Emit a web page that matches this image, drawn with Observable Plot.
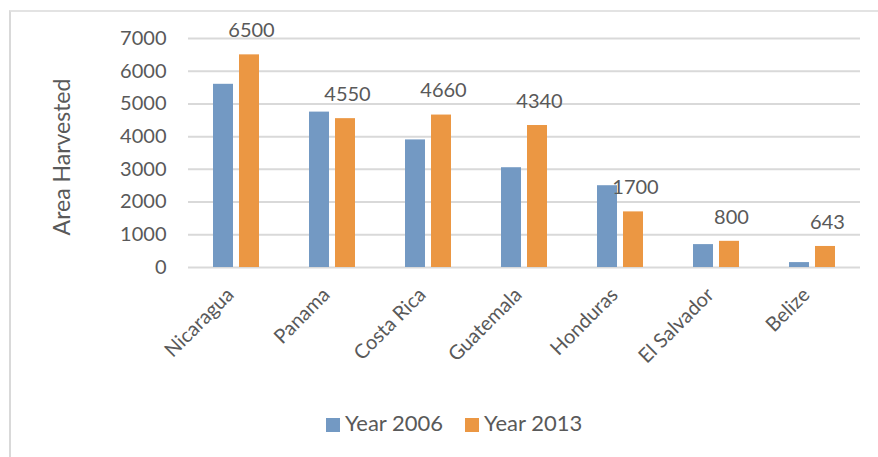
<!DOCTYPE html>
<html><head><meta charset="utf-8">
<script src="https://cdn.jsdelivr.net/npm/d3@7"></script>
<script src="https://cdn.jsdelivr.net/npm/@observablehq/plot@0.6"></script>
<style>
body{margin:0;background:#fff;font-family:Lato,"Open Sans",sans-serif;overflow:hidden;}
#wrap{position:relative;width:878px;height:457px;overflow:hidden;}
#frame{position:absolute;left:9px;top:10px;width:900px;height:480px;border-left:2px solid #d9d9d9;border-top:2px solid #e3e3e3;box-sizing:border-box;}
#chart{position:absolute;left:0;top:0;}
#ylabel{position:absolute;left:61px;top:157px;transform:translate(-50%,-50%) rotate(-90deg);white-space:nowrap;font-size:23px;color:#595959;}
#legend{position:absolute;left:326px;top:409px;line-height:28px;white-space:nowrap;font-size:22px;color:#595959;}
#legend span.sw{display:inline-block;width:14px;height:14px;margin-right:5px;vertical-align:-1px;}
#legend span.it{margin-right:22px;}
</style></head>
<body><div id="wrap"><div id="frame"></div><div id="chart"></div>
<div id="ylabel"></div><div id="legend"></div></div>
<script>
const countries = ["Nicaragua","Panama","Costa Rica","Guatemala","Honduras","El Salvador","Belize"];
const series = ["Year 2006","Year 2013"];
const values2006 = [5600,4750,3900,3050,2500,700,150];
const values2013 = [6500,4550,4660,4340,1700,800,643];
const yTicks = [0,1000,2000,3000,4000,5000,6000,7000];
const yTitle = "Area Harvested";
const colors = ["#7399c3","#eb9743"];

const data = [];
countries.forEach((c,i)=>{
  data.push({country:c, series:series[0], value:values2006[i]});
  data.push({country:c, series:series[1], value:values2013[i]});
});
const labels = data.filter(d=>d.series===series[1]);

const chart = Plot.plot({
  width: 878, height: 400,
  marginLeft: 188, marginRight: 18, marginTop: 38, marginBottom: 133,
  style:{fontFamily:"Lato, 'Open Sans', sans-serif", color:"#595959", background:"transparent", overflow:"visible"},
  fx:{domain:countries, padding:0, label:null},
  x:{domain:series, paddingInner:0.222, paddingOuter:0.889, axis:null},
  y:{domain:[0,7000], ticks:yTicks, label:null},
  color:{domain:series, range:colors},
  marks:[
    Plot.gridY(yTicks,{stroke:"#d9d9d9", strokeOpacity:1, strokeWidth:2}),
    Plot.axisY(yTicks,{tickSize:0, tickPadding:22, fontSize:20, tickFormat:d=>String(d), label:null}),
    Plot.axisFx({anchor:"bottom", tickSize:0, tickRotate:-45, fontSize:20, tickPadding:24, dx:-6}),
    Plot.barY(data,{fx:"country", x:"series", y:"value", fill:"series"}),
    Plot.text(labels,{fx:"country", x:"series", y:"value", text:d=>String(d.value), dy:-24, dx:2, fontSize:20, fill:"#595959"})
  ]
});
document.getElementById("chart").appendChild(chart);
document.getElementById("ylabel").textContent = yTitle;

const lg = document.getElementById("legend");
series.forEach((s,i)=>{
  const it = document.createElement("span"); it.className="it";
  it.innerHTML = `<span class="sw" style="background:${colors[i]}"></span>${s}`;
  lg.appendChild(it);
});
</script></body></html>
